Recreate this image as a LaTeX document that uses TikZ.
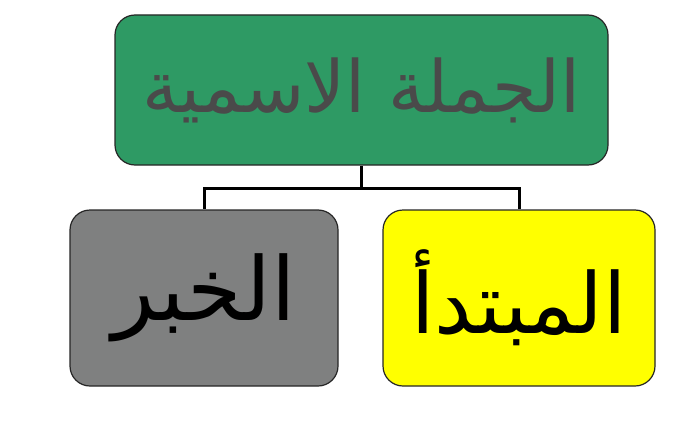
\documentclass[tikz,border=0pt]{standalone}
\usepackage{fontspec}
\usepackage{xcolor}
\usetikzlibrary{positioning,calc}
\newfontfamily\arabicfont[Script=Arabic]{DejaVu Sans}
\TeXXeTstate=1
\definecolor{jumlagreen}{HTML}{2E9A64}
\definecolor{khabargray}{HTML}{7F8080}
\definecolor{mubtadayellow}{HTML}{FFFF00}
\definecolor{textgray}{HTML}{4A4A4A}

\tikzset{
	box/.style={draw=black!85,line width=1.2pt,rounded corners=20pt,inner sep=0pt},
	link/.style={draw=black,line width=3pt}
}

\begin{document}
\begin{tikzpicture}[x=1pt,y=1pt]
		\useasboundingbox (0,0) rectangle (700,440);
		\node[box,fill=jumlagreen,minimum width=493pt,minimum height=150pt,text=textgray,
			font=\arabicfont\fontsize{72}{80}\selectfont] (jumla) at (361.5,350) {\beginR الجملة الاسمية\endR};
		\node[box,fill=khabargray,minimum width=268pt,minimum height=176pt,
			font=\arabicfont\fontsize{88}{96}\selectfont] (khabar) at (204,142) {\beginR الخبر\endR};
		\node[box,fill=mubtadayellow,minimum width=272pt,minimum height=176pt,
			font=\arabicfont\fontsize{84}{92}\selectfont] (mubtada) at (519,142) {\beginR المبتدأ\endR};
		%
		\coordinate (split) at ($(jumla.south)+(0,-23)$);
		\draw[link] (jumla.south) -- (split);
		\draw[link] (split) -| (khabar.north);
		\draw[link] (split) -| (mubtada.north);
	\end{tikzpicture}
\end{document}
